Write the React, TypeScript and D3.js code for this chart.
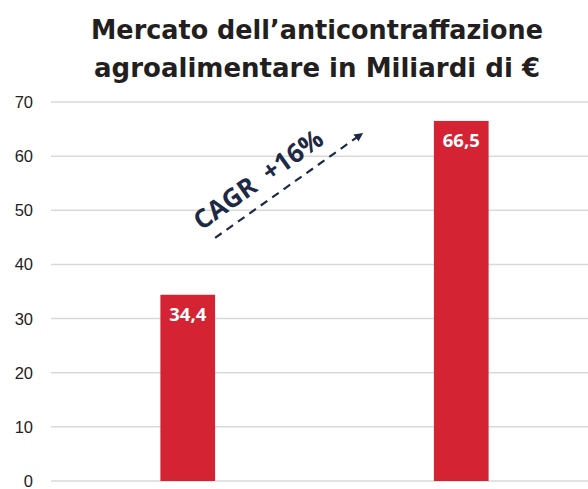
import React, { useEffect, useRef } from "react";
import { select, scaleBand, scaleLinear, range } from "d3";

const titleLines = ["Mercato dell\u2019anticontraffazione", "agroalimentare in Miliardi di \u20ac"];
const categories = ["2020", "2024"];
const values = [34.4, 66.5];
const valueLabels = ["34,4", "66,5"];
const yTicks = [0, 10, 20, 30, 40, 50, 60, 70];
const cagrLabel = "CAGR  +16%";
// arrow endpoints in data units: [fraction between bars, value]
const arrowFrom = [0, 44.9];
const arrowTo = [0.67, 64.1];

const W = 588;
const H = 489;

function App() {
  const svgRef = useRef<SVGSVGElement>(null);

  useEffect(() => {
    const svg = select(svgRef.current);
    svg.selectAll("*").remove();

    const x = scaleBand<string>()
      .domain(categories)
      .range([51, 598])
      .paddingInner(0.8)
      .paddingOuter(0.4);

    const y = scaleLinear().domain([0, 70]).range([481, 102]);

    // title
    svg
      .selectAll(".title")
      .data(titleLines)
      .join("text")
      .attr("class", "title")
      .attr("x", 317)
      .attr("y", (d, i) => 38.5 + i * 38.5)
      .attr("text-anchor", "middle")
      .attr("textLength", (d, i) => (i === 0 ? 452 : 446))
      .attr("lengthAdjust", "spacingAndGlyphs")
      .attr("font-family", "'DejaVu Sans', sans-serif")
      .attr("font-weight", "bold")
      .attr("font-size", 27)
      .attr("fill", "#231f20")
      .text(d => d);

    // grid + y labels
    svg
      .selectAll(".grid")
      .data(yTicks)
      .join("line")
      .attr("class", "grid")
      .attr("x1", 51)
      .attr("x2", W)
      .attr("y1", d => y(d))
      .attr("y2", d => y(d))
      .attr("stroke", "#d9d9d9")
      .attr("stroke-width", 1.5);

    svg
      .selectAll(".ylab")
      .data(yTicks)
      .join("text")
      .attr("class", "ylab")
      .attr("x", 33)
      .attr("y", d => y(d))
      .attr("dy", "0.36em")
      .attr("text-anchor", "end")
      .attr("font-family", "'Liberation Sans', Arial, sans-serif")
      .attr("font-size", 16.5)
      .attr("fill", "#222")
      .text(d => d);

    // bars
    const idx = range(categories.length);
    svg
      .selectAll(".bar")
      .data(idx)
      .join("rect")
      .attr("class", "bar")
      .attr("x", i => x(categories[i])!)
      .attr("width", x.bandwidth())
      .attr("y", i => y(values[i]))
      .attr("height", i => y(0) - y(values[i]))
      .attr("fill", "#d42434");

    svg
      .selectAll(".vlab")
      .data(idx)
      .join("text")
      .attr("class", "vlab")
      .attr("x", i => x(categories[i])! + x.bandwidth() / 2)
      .attr("y", i => y(values[i]) + 26)
      .attr("text-anchor", "middle")
      .attr("font-family", "'Open Sans', sans-serif")
      .attr("font-weight", "bold")
      .attr("font-size", 18.5)
      .attr("fill", "#fff")
      .text(i => valueLabels[i]);

    // CAGR arrow
    const left = x(categories[0])! + x.bandwidth();
    const right = x(categories[1])!;
    const ax = (f: number) => left + f * (right - left);
    const x1 = ax(arrowFrom[0]), y1 = y(arrowFrom[1]);
    const x2 = ax(arrowTo[0]), y2 = y(arrowTo[1]);
    const ang = (Math.atan2(y2 - y1, x2 - x1) * 180) / Math.PI;

    const defs = svg.append("defs");
    defs
      .append("marker")
      .attr("id", "arrowhead")
      .attr("viewBox", "0 0 10 10")
      .attr("refX", 8)
      .attr("refY", 5)
      .attr("markerWidth", 4)
      .attr("markerHeight", 4)
      .attr("orient", "auto")
      .append("path")
      .attr("d", "M0,0 L10,5 L0,10 z")
      .attr("fill", "#1e2a45");

    svg
      .append("line")
      .attr("x1", x1)
      .attr("y1", y1)
      .attr("x2", x2)
      .attr("y2", y2)
      .attr("stroke", "#1e2a45")
      .attr("stroke-width", 2.2)
      .attr("stroke-dasharray", "8,6")
      .attr("marker-end", "url(#arrowhead)");

    const mx = (x1 + x2) / 2 - 25;
    const my = (y1 + y2) / 2 + 1;
    svg
      .append("text")
      .attr("transform", `translate(${mx},${my}) rotate(${ang})`)
      .attr("text-anchor", "middle")
      .attr("font-family", "'Open Sans', sans-serif")
      .attr("font-weight", "bold")
      .attr("font-size", 26)
      .attr("fill", "#1e2a45")
      .attr("xml:space", "preserve")
      .style("white-space", "pre")
      .text(cagrLabel);
  }, []);

  return (
    <svg
      ref={svgRef}
      width={W}
      height={H}
      style={{ position: "absolute", left: 0, top: 0, background: "#fff" }}
    />
  );
}

export default App;
